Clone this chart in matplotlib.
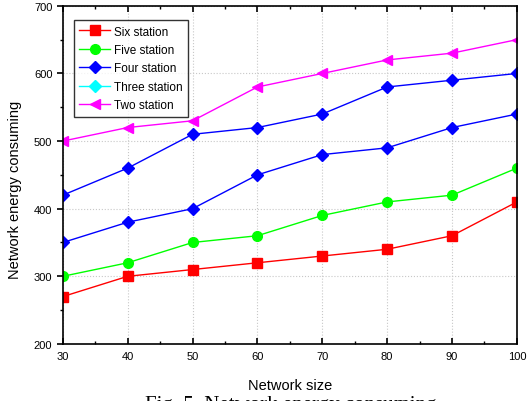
import matplotlib
matplotlib.use("Agg")
import matplotlib.pyplot as plt
from matplotlib.ticker import MultipleLocator

plt.rcParams["font.family"] = ["Liberation Sans", "DejaVu Sans"]

# Dados
network_size = [30, 40, 50, 60, 70, 80, 90, 100]
six_station = [270, 300, 310, 320, 330, 340, 360, 410]
five_station = [300, 320, 350, 360, 390, 410, 420, 460]
four_station = [420, 460, 510, 520, 540, 580, 590, 600]
three_station = [350, 380, 400, 450, 480, 490, 520, 540]
two_station = [500, 520, 530, 580, 600, 620, 630, 650]


def main():
    fig = plt.figure(figsize=(5.28, 4.02), dpi=100)
    ax = fig.add_axes([0.119, 0.142, 0.860, 0.841])

    ax.plot(network_size, six_station, color="#ff0000", marker="s",
            markersize=6.5, linewidth=1, label="Six station")
    ax.plot(network_size, five_station, color="#00ff00", marker="o",
            markersize=7, linewidth=1, label="Five station")
    ax.plot(network_size, four_station, color="#0000ff", marker="D",
            markersize=6.5, linewidth=1, label="Four station")
    # no grafico original a curva aparece azul, mas a legenda e ciano
    ax.plot(network_size, three_station, color="#0000ff", marker="D",
            markersize=6.5, linewidth=1)
    ax.plot([], [], color="#00ffff", marker="D", markersize=6.5,
            linewidth=1, label="Three station")
    ax.plot(network_size, two_station, color="#ff00ff", marker="<",
            markersize=7.5, linewidth=1, label="Two station")

    ax.set_xlim(30, 100)
    ax.set_ylim(200, 700)
    ax.xaxis.set_major_locator(MultipleLocator(10))
    ax.xaxis.set_minor_locator(MultipleLocator(5))
    ax.yaxis.set_major_locator(MultipleLocator(100))
    ax.yaxis.set_minor_locator(MultipleLocator(50))

    ax.grid(True, which="major", color="#c8c8c8", linestyle=":", linewidth=0.8)
    ax.tick_params(axis="x", which="both", direction="in", top=True,
                   labelsize=8, pad=5)
    ax.tick_params(axis="y", which="both", direction="out", labelsize=8)
    ax.tick_params(which="major", length=4, width=1.2)
    ax.tick_params(which="minor", length=2.5, width=1)
    for spine in ax.spines.values():
        spine.set_linewidth(1.2)

    ax.set_xlabel("Network size", fontsize=10.5, labelpad=12)
    ax.set_ylabel("Network energy consuming", fontsize=10.5)
    ax.yaxis.set_label_coords(-0.09, 0.46)

    leg = ax.legend(loc="upper left", fontsize=8.5, frameon=True, fancybox=False,
                    edgecolor="black", borderpad=0.45, labelspacing=0.55,
                    handlelength=2.6, handletextpad=0.3,
                    bbox_to_anchor=(0.012, 0.975))
    leg.get_frame().set_linewidth(1)

    fig.text(0.55, 0.014, "Fig. 5. Network energy consuming", fontsize=15,
             family="Liberation Serif", ha="center", va="top")

    fig.savefig("out.png", dpi=100)


if __name__ == "__main__":
    main()
